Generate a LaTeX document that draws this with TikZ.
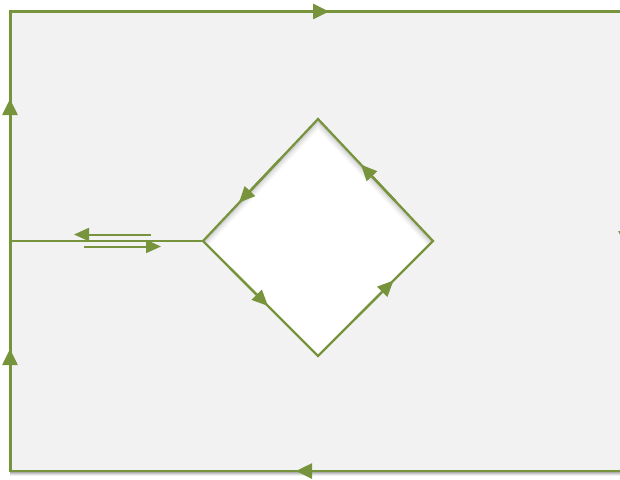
\documentclass[tikz,border=0pt]{standalone}
\usetikzlibrary{arrows.meta,calc}
\definecolor{grn}{HTML}{77933C}
\definecolor{bgc}{HTML}{F2F2F2}
\begin{document}
\begin{tikzpicture}[x=1pt,y=-1pt,
  edge/.style={grn,line width=2.2pt},
  flow/.style={grn,line width=2.6pt,-{Triangle[length=16pt,width=15pt]}},
  dflow/.style={grn,line width=2.4pt,-{Triangle[length=16pt,width=14pt]}},
  mflow/.style={grn,line width=2pt,-{Triangle[length=15pt,width=13pt]}}]
\useasboundingbox (0,0) rectangle (620,479);
\clip (0,0) rectangle (620,479);
\fill[white] (0,0) rectangle (620,479);
% corners
\coordinate (TL) at (10.5,11.5);
\coordinate (TR) at (627,11.5);
\coordinate (BL) at (10.5,471);
\coordinate (BR) at (627,471);
% diamond vertices
\coordinate (DT) at (318,119);
\coordinate (DR) at (433,241);
\coordinate (DB) at (318,356);
\coordinate (DL) at (203,241);
\coordinate (ML) at (10.5,241);
% drop shadow of the frame
\foreach \o/\a in {4/0.06,3/0.08,2/0.1,1/0.12}
  \fill[black,opacity=\a] ($(TL)+(-1,2)$) rectangle ($(BR)+(0,\o+1)$);
\fill[bgc] (TL) rectangle (BR);
% diamond with inner shadow
\fill[white] (DT) -- (DR) -- (DB) -- (DL) -- cycle;
\begin{scope}
  \clip (DT) -- (DR) -- (DB) -- (DL) -- cycle;
  \foreach \w/\a in {14/0.04,10/0.05,6/0.07,3/0.09}
    \draw[black,opacity=\a,line width=\w pt,line join=round] (DL) -- (DT) -- (DR);
\end{scope}
\draw[edge,line join=miter] (DT) -- (DR) -- (DB) -- (DL) -- cycle;
% frame
\draw[edge] (BR) -- (BL) -- (TL) -- (TR) -- (BR);
\draw[edge] (ML) -- (DL);
% flow arrows on frame
\coordinate (a1s) at (253,11.5); \coordinate (a1e) at (329,11.5);
\draw[flow] (a1s) -- (a1e);
\coordinate (a2s) at (10,177); \coordinate (a2e) at (10,99);
\draw[flow] (a2s) -- (a2e);
\coordinate (a3s) at (10,425); \coordinate (a3e) at (10,349);
\draw[flow] (a3s) -- (a3e);
\coordinate (a4s) at (372,471); \coordinate (a4e) at (296,471);
\draw[flow] (a4s) -- (a4e);
\coordinate (a5s) at (626,170); \coordinate (a5e) at (626,247);
\draw[flow] (a5s) -- (a5e);
% middle arrows
\coordinate (m1s) at (151,234.5); \coordinate (m1e) at (74,234.5);
\draw[mflow] (m1s) -- (m1e);
\coordinate (m2s) at (84,246.5); \coordinate (m2e) at (161,246.5);
\draw[mflow] (m2s) -- (m2e);
% diamond arrows
\coordinate (d1s) at (280,159.3); \coordinate (d1e) at (239,202.7);
\draw[dflow] (d1s) -- (d1e);
\coordinate (d2s) at (395,200.7); \coordinate (d2e) at (361,164.6);
\draw[dflow] (d2s) -- (d2e);
\coordinate (d3s) at (230,268); \coordinate (d3e) at (268,306);
\draw[dflow] (d3s) -- (d3e);
\coordinate (d4s) at (355,319); \coordinate (d4e) at (393.5,280.5);
\draw[dflow] (d4s) -- (d4e);
\end{tikzpicture}
\end{document}
